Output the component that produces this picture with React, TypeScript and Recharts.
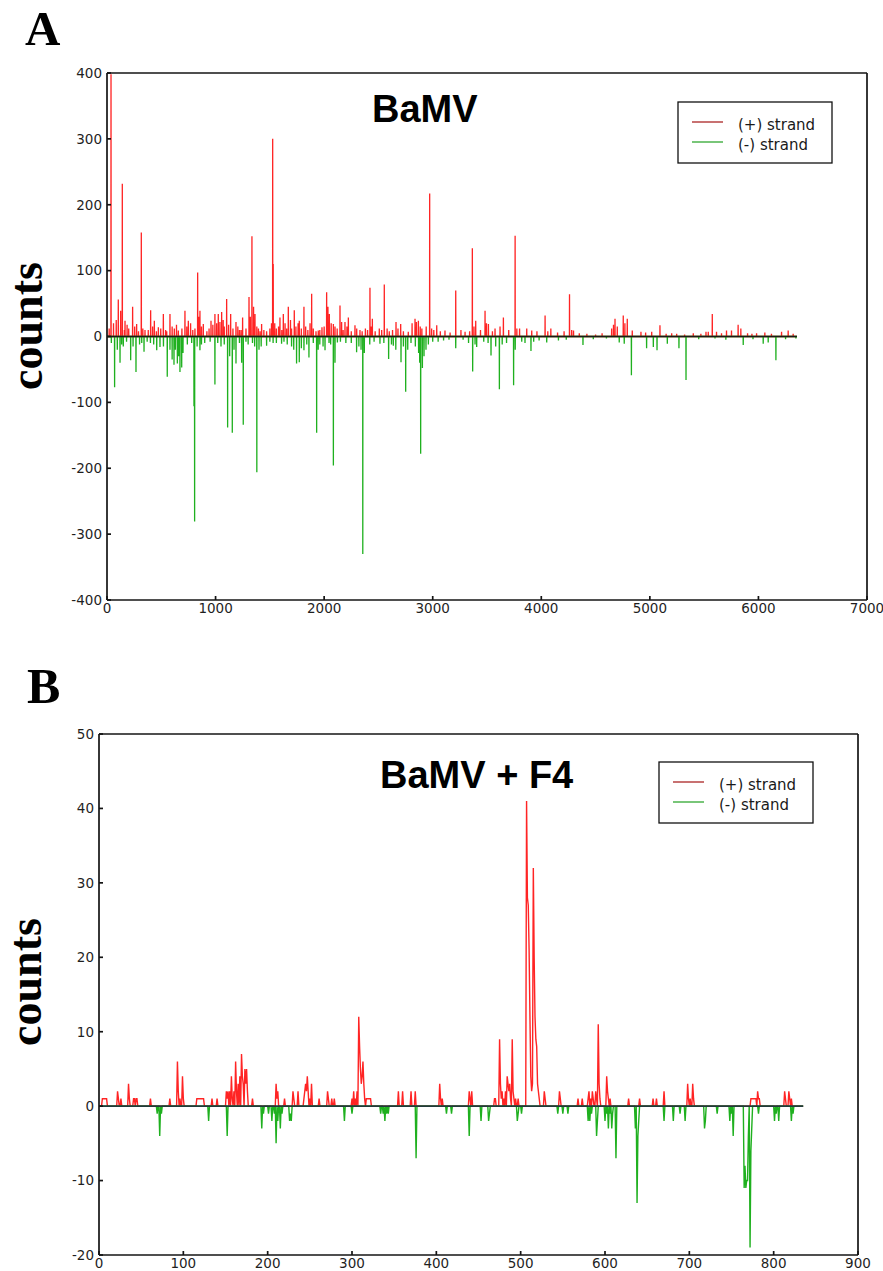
import React from 'react';
import { LineChart, Line, XAxis, YAxis } from 'recharts';

// ---------- Panel A (BaMV) : [position, count] ----------
const plusStrandA: [number, number][] = [
  [20, 12], [37, 398], [60, 20], [85, 25], [104, 56], [126, 39], [141, 232], [160, 10], [166, 24],
  [185, 18], [200, 12], [236, 45], [255, 15], [273, 19], [290, 8], [316, 158], [330, 12], [350, 10],
  [380, 10], [402, 40], [420, 15], [436, 24], [455, 8], [473, 14], [495, 12], [519, 34], [540, 10],
  [550, 8], [580, 34], [600, 15], [620, 12], [640, 18], [657, 9], [690, 12], [718, 39], [735, 15],
  [749, 24], [770, 20], [790, 10], [810, 12], [835, 97], [845, 30], [856, 39], [870, 15], [887, 19],
  [920, 8], [940, 12], [958, 24], [975, 18], [994, 34], [1010, 20], [1025, 34], [1040, 22],
  [1056, 37], [1070, 25], [1080, 15], [1102, 57], [1120, 18], [1139, 34], [1160, 12], [1188, 22],
  [1205, 15], [1220, 10], [1235, 10], [1249, 29], [1280, 12], [1308, 60], [1320, 30], [1335, 152],
  [1350, 45], [1363, 34], [1380, 15], [1395, 12], [1410, 8], [1424, 19], [1445, 10], [1470, 8],
  [1500, 12], [1515, 20], [1526, 300], [1531, 110], [1545, 20], [1560, 12], [1580, 15], [1593, 29],
  [1610, 10], [1624, 34], [1640, 20], [1655, 12], [1670, 45], [1690, 25], [1700, 12], [1725, 40],
  [1740, 15], [1760, 20], [1771, 24], [1790, 12], [1814, 45], [1830, 15], [1850, 10], [1870, 20],
  [1885, 65], [1900, 12], [1925, 8], [1946, 9], [1960, 10], [1980, 14], [2000, 15], [2023, 67],
  [2035, 45], [2048, 34], [2065, 20], [2085, 19], [2100, 15], [2120, 12], [2146, 47], [2161, 22],
  [2175, 10], [2192, 22], [2210, 15], [2223, 29], [2250, 8], [2284, 17], [2300, 12], [2330, 10],
  [2350, 8], [2380, 12], [2400, 10], [2422, 74], [2435, 15], [2444, 27], [2470, 8], [2508, 12],
  [2530, 10], [2554, 79], [2580, 12], [2600, 8], [2630, 10], [2662, 22], [2680, 12], [2705, 19],
  [2730, 8], [2775, 7], [2810, 20], [2837, 27], [2850, 22], [2868, 24], [2885, 15], [2900, 12],
  [2940, 15], [2972, 217], [2990, 12], [3010, 10], [3037, 17], [3070, 8], [3113, 9], [3160, 6],
  [3212, 70], [3260, 10], [3298, 7], [3340, 8], [3365, 134], [3380, 15], [3396, 24], [3440, 10],
  [3482, 39], [3495, 20], [3513, 19], [3550, 8], [3574, 12], [3620, 15], [3651, 29], [3700, 10],
  [3759, 153], [3775, 12], [3800, 12], [3866, 12], [3912, 9], [3960, 8], [4035, 32], [4060, 8],
  [4088, 12], [4150, 6], [4210, 8], [4260, 64], [4280, 10], [4297, 9], [4350, 5], [4420, 4],
  [4500, 3], [4560, 5], [4648, 12], [4665, 18], [4679, 27], [4700, 15], [4755, 32], [4770, 20],
  [4792, 27], [4838, 9], [4918, 7], [4961, 6], [5017, 7], [5093, 17], [5150, 4], [5201, 5],
  [5247, 4], [5320, 3], [5400, 5], [5470, 4], [5517, 7], [5538, 7], [5575, 34], [5614, 7],
  [5660, 5], [5706, 9], [5752, 9], [5813, 18], [5838, 12], [5900, 5], [5940, 4], [5983, 5],
  [6059, 6], [6120, 4], [6213, 7], [6274, 9], [6320, 4],
];
const minusStrandA: [number, number][] = [
  [40, -10], [70, -77], [95, -20], [120, -40], [135, -12], [150, -15], [180, -8], [218, -36],
  [240, -15], [267, -54], [300, -12], [320, -10], [341, -23], [370, -8], [400, -10], [430, -12],
  [458, -21], [488, -16], [520, -15], [555, -61], [580, -20], [600, -35], [617, -43], [630, -20],
  [648, -41], [660, -30], [672, -54], [688, -47], [700, -25], [740, -12], [780, -10], [801, -106],
  [807, -281], [830, -15], [856, -21], [870, -12], [900, -10], [950, -8], [994, -73], [1020, -10],
  [1050, -15], [1080, -12], [1111, -138], [1130, -30], [1154, -146], [1170, -20], [1188, -41],
  [1220, -10], [1240, -40], [1255, -134], [1280, -8], [1300, -12], [1340, -10], [1360, -15],
  [1380, -206], [1400, -20], [1420, -15], [1470, -14], [1500, -8], [1530, -10], [1560, -10],
  [1608, -11], [1630, -8], [1660, -12], [1700, -15], [1720, -20], [1746, -41], [1771, -39],
  [1790, -18], [1814, -21], [1840, -12], [1860, -32], [1900, -10], [1931, -146], [1945, -20],
  [1960, -12], [1990, -15], [2008, -21], [2045, -10], [2060, -12], [2085, -196], [2100, -40],
  [2122, -9], [2150, -8], [2200, -10], [2250, -10], [2299, -24], [2320, -15], [2340, -20],
  [2356, -330], [2370, -25], [2420, -12], [2460, -8], [2514, -11], [2550, -10], [2594, -34],
  [2620, -12], [2637, -14], [2660, -20], [2708, -39], [2730, -15], [2751, -84], [2770, -20],
  [2800, -10], [2840, -15], [2870, -25], [2880, -40], [2889, -178], [2905, -48], [2920, -30],
  [2938, -20], [2960, -12], [3000, -8], [3050, -8], [3100, -6], [3150, -5], [3212, -18],
  [3280, -5], [3330, -10], [3368, -53], [3390, -12], [3405, -16], [3470, -8], [3510, -10],
  [3537, -29], [3580, -15], [3614, -80], [3640, -12], [3680, -10], [3745, -74], [3760, -20],
  [3820, -8], [3850, -10], [3905, -22], [3930, -8], [3980, -6], [4050, -9], [4158, -6],
  [4230, -5], [4384, -13], [4479, -4], [4600, -3], [4718, -9], [4764, -11], [4830, -59],
  [4970, -18], [5032, -16], [5066, -21], [5161, -11], [5268, -18], [5333, -66], [5450, -4],
  [5600, -3], [5700, -5], [5860, -13], [5950, -4], [6044, -11], [6090, -9], [6161, -36],
  [6250, -4], [6345, -3],
];
const lengthA = 6355;
const xTicksA = [0, 1000, 2000, 3000, 4000, 5000, 6000, 7000];
const yTicksA = [-400, -300, -200, -100, 0, 100, 200, 300, 400];

// ---------- Panel B (BaMV + F4) : [position, count] ----------
const plusStrandB: [number, number][] = [
  [4, 1], [5, 1], [6, 1], [7, 1], [8, 1], [9, 1], [22, 2], [23, 1], [26, 1], [35, 3], [36, 1],
  [41, 1], [42, 1], [44, 1], [45, 1], [61, 1], [84, 1], [93, 6], [94, 2], [96, 1], [99, 4], [100, 1],
  [116, 1], [117, 1], [118, 1], [119, 1], [120, 1], [121, 1], [122, 1], [123, 1], [124, 1],
  [134, 1], [140, 1], [151, 2], [152, 1], [153, 2], [155, 2], [157, 4], [158, 1], [160, 2],
  [162, 6], [163, 2], [165, 3], [167, 4], [169, 7], [170, 4], [171, 3], [173, 5], [174, 3],
  [175, 5], [176, 2], [182, 1], [210, 3], [211, 1], [212, 2], [220, 1], [230, 2], [231, 1],
  [236, 2], [243, 1], [244, 2], [245, 3], [246, 2], [247, 4], [248, 2], [250, 1], [252, 3],
  [261, 1], [271, 2], [272, 1], [276, 1], [279, 1], [300, 1], [302, 2], [304, 1], [306, 2],
  [308, 12], [309, 8], [310, 5], [311, 3], [312, 4], [313, 6], [314, 3], [315, 1], [317, 1],
  [318, 1], [319, 1], [320, 1], [321, 1], [322, 1], [355, 2], [360, 2], [370, 2], [375, 2],
  [404, 3], [405, 1], [407, 1], [439, 2], [440, 1], [442, 2], [469, 1], [470, 1], [475, 9],
  [476, 3], [477, 1], [478, 2], [480, 1], [482, 2], [484, 4], [485, 3], [486, 2], [487, 3],
  [488, 1], [490, 9], [491, 2], [492, 1], [494, 1], [497, 1], [507, 41], [508, 28], [509, 27],
  [510, 21], [511, 12], [512, 4], [513, 2], [514, 3], [515, 32], [516, 20], [517, 12], [518, 9],
  [519, 8], [520, 3], [521, 2], [522, 1], [528, 2], [529, 1], [546, 2], [547, 1], [568, 1],
  [573, 1], [580, 1], [581, 2], [583, 1], [585, 2], [586, 1], [589, 2], [590, 1], [592, 11],
  [593, 3], [594, 1], [602, 4], [603, 2], [604, 1], [606, 1], [628, 1], [641, 1], [657, 1],
  [661, 1], [670, 2], [698, 3], [699, 1], [701, 1], [704, 3], [705, 1], [773, 1], [774, 1],
  [775, 1], [776, 1], [777, 1], [778, 1], [779, 1], [781, 2], [782, 1], [783, 1], [813, 2],
  [814, 1], [818, 2], [819, 1], [821, 1],
];
const minusStrandB: [number, number][] = [
  [69, -1], [72, -4], [74, -1], [130, -2], [152, -4], [193, -3], [195, -1], [201, -1], [205, -2],
  [208, -1], [210, -5], [212, -2], [215, -3], [217, -1], [226, -2], [227, -1], [228, -2],
  [291, -2], [300, -1], [334, -1], [337, -1], [339, -2], [341, -1], [343, -1], [376, -7],
  [412, -1], [418, -1], [439, -4], [453, -2], [462, -2], [463, -1], [496, -2], [497, -1],
  [501, -1], [544, -1], [550, -1], [556, -1], [580, -2], [582, -2], [584, -1], [590, -4],
  [591, -2], [600, -2], [602, -1], [604, -3], [606, -1], [608, -3], [609, -1], [613, -7],
  [636, -3], [638, -13], [639, -4], [640, -2], [670, -2], [681, -2], [689, -1], [695, -2],
  [718, -3], [719, -2], [733, -1], [748, -2], [750, -1], [752, -4], [765, -11], [766, -8],
  [767, -11], [768, -10], [769, -10], [770, -4], [772, -19], [773, -6], [774, -3], [782, -1],
  [801, -2], [803, -1], [806, -2], [821, -2], [823, -1],
];
const lengthB = 835;
const xTicksB = [0, 100, 200, 300, 400, 500, 600, 700, 800, 900];
const yTicksB = [-20, -10, 0, 10, 20, 30, 40, 50];

const legendLabels = ['(+) strand', '(-) strand'];

// counts are zero at every position not listed
function buildTable(len: number, plus: [number, number][], minus: [number, number][]) {
  const p = new Map(plus);
  const m = new Map(minus);
  const rows: { pos: number; plus: number; minus: number; base: number }[] = [];
  for (let i = 0; i <= len; i++) {
    rows.push({ pos: i, plus: p.get(i) ?? 0, minus: m.get(i) ?? 0, base: 0 });
  }
  return rows;
}

const rowsA = buildTable(lengthA, plusStrandA, minusStrandA);
const rowsB = buildTable(lengthB, plusStrandB, minusStrandB);

const RED = '#ff2424';
const GREEN = '#1fb01f';
const FRAME = '#141414';
const tickStyle = { fill: '#1f1f1f', fontSize: 13.5, fontFamily: 'DejaVu Sans' };

function Panel(props: {
  rows: any[]; xTicks: number[]; yTicks: number[]; xMax: number; yMin: number; yMax: number;
  width: number; height: number; margin: any; xAxisH: number; baseColor: string; lineW: number;
}) {
  const { rows, xTicks, yTicks, xMax, yMin, yMax, width, height, margin, xAxisH, baseColor, lineW } = props;
  return (
    <LineChart width={width} height={height} data={rows} margin={margin}>
      <XAxis dataKey="pos" type="number" domain={[0, xMax]} ticks={xTicks} interval={0}
        tickSize={-4} tickMargin={7} height={xAxisH} stroke={FRAME} strokeWidth={1.7}
        tick={tickStyle} allowDataOverflow />
      <XAxis xAxisId="top" orientation="top" dataKey="pos" type="number" domain={[0, xMax]}
        ticks={xTicks} interval={0} tickSize={-4} height={1} tick={false} stroke={FRAME}
        strokeWidth={1.7} allowDataOverflow />
      <YAxis type="number" domain={[yMin, yMax]} ticks={yTicks} interval={0} tickSize={-4}
        tickMargin={9} width={40} stroke={FRAME} strokeWidth={1.7} tick={tickStyle} allowDataOverflow />
      <YAxis yAxisId="right" orientation="right" type="number" domain={[yMin, yMax]} ticks={yTicks}
        interval={0} tickSize={-4} width={1} tick={false} stroke={FRAME} strokeWidth={1.7} allowDataOverflow />
      <Line dataKey="plus" stroke={RED} strokeWidth={lineW} dot={false} isAnimationActive={false} />
      <Line dataKey="minus" stroke={GREEN} strokeWidth={lineW} dot={false} isAnimationActive={false} />
      <Line dataKey="base" xAxisId="top" yAxisId="right" stroke={baseColor} strokeWidth={1.6}
        dot={false} isAnimationActive={false} />
    </LineChart>
  );
}

function LegendBox({ x, y }: { x: number; y: number }) {
  return (
    <g>
      <rect x={x} y={y} width={154} height={61} fill="#fff" stroke="#111" strokeWidth={1.3} />
      <line x1={x + 14} x2={x + 45} y1={y + 20} y2={y + 20} stroke="#b03434" strokeWidth={1.4} />
      <line x1={x + 14} x2={x + 45} y1={y + 40} y2={y + 40} stroke="#3fae3f" strokeWidth={1.4} />
      <text x={x + 60} y={y + 28} fontFamily="DejaVu Sans" fontSize={15} fill="#1a1a1a">{legendLabels[0]}</text>
      <text x={x + 60} y={y + 48} fontFamily="DejaVu Sans" fontSize={15} fill="#1a1a1a">{legendLabels[1]}</text>
    </g>
  );
}

export default function App() {
  return (
    <div style={{ position: 'absolute', left: 0, top: 0, width: 883, height: 1271, background: '#fff', overflow: 'hidden' }}>
      <div style={{ position: 'absolute', left: 0, top: 0 }}>
        <Panel rows={rowsA} xTicks={xTicksA} yTicks={yTicksA} xMax={7000} yMin={-400} yMax={400}
          width={883} height={640} margin={{ top: 72, right: 15, bottom: 20, left: 67 }} xAxisH={20}
          baseColor="#1a1a1a" lineW={1.3} />
      </div>
      <div style={{ position: 'absolute', left: 0, top: 640 }}>
        <Panel rows={rowsB} xTicks={xTicksB} yTicks={yTicksB} xMax={900} yMin={-20} yMax={50}
          width={883} height={631} margin={{ top: 93, right: 24, bottom: 0, left: 59 }} xAxisH={16}
          baseColor="#213a3a" lineW={1.4} />
      </div>
      <svg width={883} height={1271} style={{ position: 'absolute', left: 0, top: 0, pointerEvents: 'none' }}>
        <text x={25} y={45} fontFamily="Liberation Serif" fontWeight="bold" fontSize={49} fill="#000">A</text>
        <text x={27} y={703} fontFamily="Liberation Serif" fontWeight="bold" fontSize={50} fill="#000">B</text>
        <text x={42} y={326} transform="rotate(-90 42 326)" textAnchor="middle" fontFamily="Liberation Serif" fontWeight="bold" fontSize={46} fill="#000">counts</text>
        <text x={41} y={982} transform="rotate(-90 41 982)" textAnchor="middle" fontFamily="Liberation Serif" fontWeight="bold" fontSize={46} fill="#000">counts</text>
        <text x={372} y={122} fontFamily="Liberation Sans" fontWeight="bold" fontSize={38} fill="#000">BaMV</text>
        <text x={380} y={788} fontFamily="Liberation Sans" fontWeight="bold" fontSize={38} fill="#000">BaMV + F4</text>
        <LegendBox x={678} y={102} />
        <LegendBox x={659} y={762} />
      </svg>
    </div>
  );
}
